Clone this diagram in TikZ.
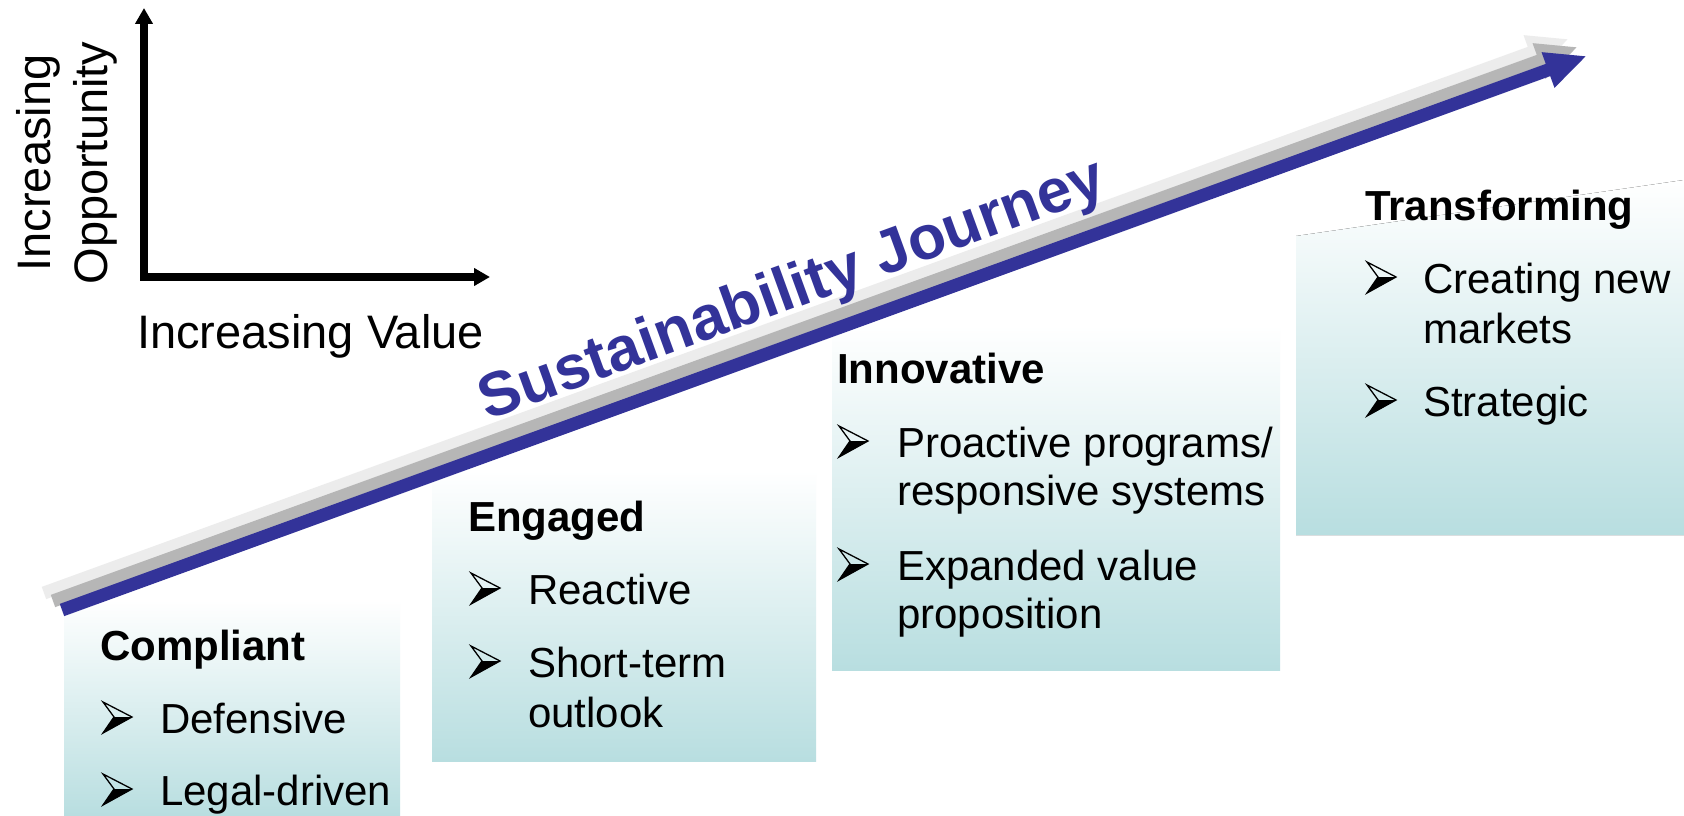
\documentclass[tikz,border=0pt]{standalone}
\usepackage{fontspec}
\setmainfont{Liberation Sans}
\usetikzlibrary{arrows.meta}
\definecolor{jblue}{RGB}{51,51,153}
\definecolor{jgrey}{RGB}{182,182,182}
\definecolor{jlight}{RGB}{236,236,236}
\definecolor{boxteal}{RGB}{184,222,224}
\newcommand\mybody{\fontsize{42}{50}\selectfont}
\newcommand\myhead{\fontsize{42}{50}\selectfont\bfseries}
\newcommand\myaxis{\fontsize{47}{56}\selectfont}
\newcommand\mytitle{\fontsize{62}{72}\selectfont\bfseries}
\begin{document}
\begin{tikzpicture}[x=1pt,y=-1pt,
  stagebox/.style={top color=white, bottom color=boxteal, draw=none},
  hd/.style={anchor=base west, font=\myhead, inner sep=0pt},
  it/.style={anchor=base west, font=\mybody, inner sep=0pt},
  axisline/.style={line width=7.5pt, line join=miter,
    {Triangle[width=17pt,length=16pt]}-{Triangle[width=17pt,length=16pt]}},
  bulletarrow/.pic={
    \fill[black] (11,-16) -- (29,-16) -- (0,0) -- cycle;
    \draw[black, line width=1.3pt, line join=miter] (0,-31) -- (29,-16) -- (0,0) -- (11,-16) -- cycle;
  }]
\useasboundingbox (0,0) rectangle (1684,816);
\fill[white] (0,0) rectangle (1684,816);

% stage boxes
\fill[stagebox] (64,600) rectangle (400,816);
\fill[stagebox] (432,470) rectangle (816,761);
\fill[stagebox] (832,325) rectangle (1280,670);
\fill[stagebox] (1296,236) -- (1684,180) -- (1684,535) -- (1296,535) -- cycle;

% journey arrow (two grey shadows and the blue arrow)
\foreach \dx/\dy/\c in {-18/-17/jlight, -9/-9/jgrey, 0/0/jblue}{
  \fill[\c, shift={(\dx,\dy)}] (64.22,616.11) -- (1550.22,76.11) -- (1554.49,87.86)
     -- (1585.6,56.34) -- (1541.51,52.14) -- (1545.78,63.89) -- (59.78,603.89) -- cycle;
}

% axes
\coordinate (ytop) at (144,8);
\coordinate (orig) at (144,277);
\coordinate (xend) at (490,277);
\draw[axisline] (ytop) -- (orig) -- (xend);
\node[rotate=90, anchor=base, font=\myaxis, inner sep=0pt] (ylab1) at (50,163) {Increasing};
\node[rotate=90, anchor=base, font=\myaxis, inner sep=0pt] (ylab2) at (107,163) {Opportunity};
\node[anchor=base west, font=\myaxis, inner sep=0pt] (xlab) at (137,348) {Increasing Value};

% title
\node[rotate=20, font=\mytitle, text=jblue, inner sep=0pt] (title) at (793,292) {Sustainability Journey};

% Compliant
\node[hd] (h1) at (100,660) {Compliant};
\pic at (103,733) {bulletarrow};
\node[it] (t11) at (160,733) {Defensive};
\pic at (103,805) {bulletarrow};
\node[it] (t12) at (160,805) {Legal-driven};

% Engaged
\node[hd] (h2) at (468,531) {Engaged};
\pic at (471,604) {bulletarrow};
\node[it] (t21) at (528,604) {Reactive};
\pic at (471,677) {bulletarrow};
\node[it] (t22) at (528,677) {Short-term};
\node[it] (t22b) at (528,727) {outlook};

% Innovative
\node[hd] (h3) at (837,383) {Innovative};
\pic at (839,457) {bulletarrow};
\node[it] (t31) at (897,457) {Proactive programs/};
\node[it] (t31b) at (897,505) {responsive systems};
\pic at (839,580) {bulletarrow};
\node[it] (t32) at (897,580) {Expanded value};
\node[it] (t32b) at (897,628) {proposition};

% Transforming
\node[hd] (h4) at (1365,220) {Transforming};
\pic at (1367,293) {bulletarrow};
\node[it] (t41) at (1423,293) {Creating new};
\node[it] (t41b) at (1423,343) {markets};
\pic at (1367,416) {bulletarrow};
\node[it] (t42) at (1423,416) {Strategic};
\end{tikzpicture}
\end{document}
